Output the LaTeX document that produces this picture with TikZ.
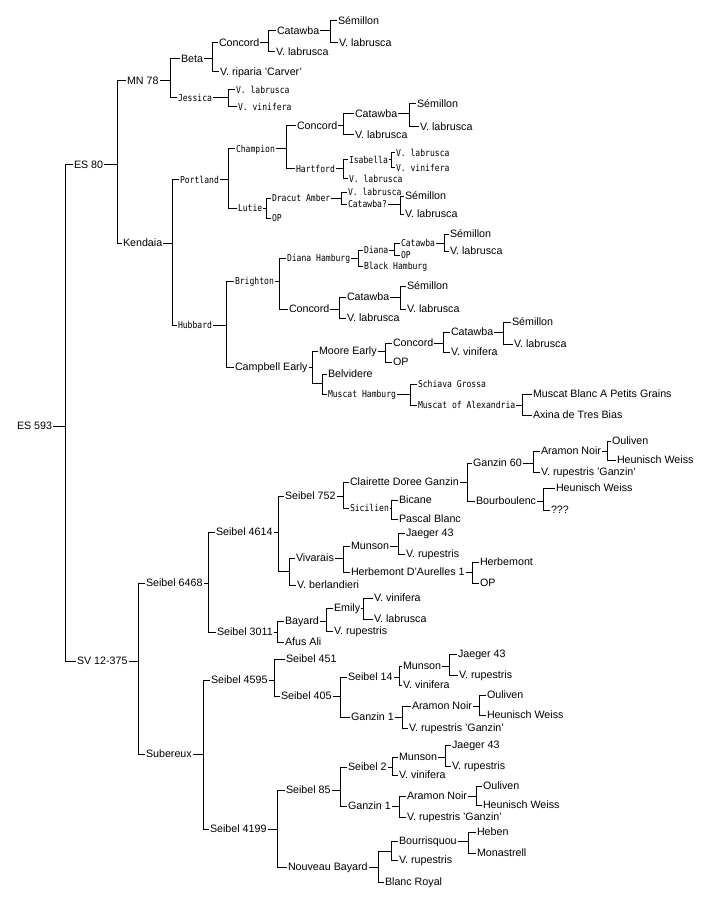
\documentclass[tikz,border=0pt]{standalone}
\usepackage{fontspec}
\setmainfont{Liberation Sans}
\newfontfamily\smallfont[FakeStretch=0.85]{DejaVu Sans Mono}

\begin{document}
\begin{tikzpicture}[x=1pt,y=-1pt,line width=1pt,
		lab/.style={anchor=west,inner sep=1pt,outer sep=0pt,font=\fontsize{10.7}{12}\selectfont,text height=7pt,text depth=0pt},
		sm/.style={lab,font=\smallfont\fontsize{9.5}{11}\selectfont,text height=6.8pt},
		junc/.style={inner sep=0pt,outer sep=0pt,minimum size=0pt}]
		\fill[white] (0,0) rectangle (714,904);
		\useasboundingbox (0,0) rectangle (714,904);

		\foreach \n/\x/\y/\txt in {es593/16/426/ES 593, es80/73/165/ES 80, sv12/76/661/SV 12-375,
				mn78/126/81/MN 78, kend/122/243/Kendaia, beta/180/59/Beta,
				conA/218/43/Concord, vrip/219/72/V. riparia 'Carver', catA/276/31/Catawba, labA/275/52/V. labrusca,
				semA/337/21/Sémillon, labA2/338/43/V. labrusca,
				conB/296/126/Concord, catB/354/114/Catawba, labB/354/135/V. labrusca, semB/416/104/Sémillon, labB2/419/127/V. labrusca,
				semC/404/196/Sémillon, labC/404/214/V. labrusca, semD/449/234/Sémillon, labD/449/251/V. labrusca,
				conD/288/309/Concord, catE/346/297/Catawba, labE/346/318/V. labrusca, semE/406/286/Sémillon, labE2/406/309/V. labrusca,
				campb/234/367/Campbell Early, moore/318/351/Moore Early, conF/392/343/Concord, mop/392/362/OP,
				catF/450/332/Catawba, vinF/450/352/V. vinifera, semF/511/322/Sémillon, labF/513/344/V. labrusca,
				belv/327/374/Belvidere, mblanc/532/394/Muscat Blanc A Petits Grains, axina/532/415/Axina de Tres Bias,
				s6468/145/583/Seibel 6468, suber/145/754/Subereux, s4614/215/532/Seibel 4614, s3011/216/632/Seibel 3011,
				s752/284/496/Seibel 752, clair/349/482/Clairette Doree Ganzin, g60/472/463/Ganzin 60, bourb/475/501/Bourboulenc,
				aramA/540/451/Aramon Noir, vrgA/540/472/V. rupestris 'Ganzin', oulA/611/441/Ouliven, heuA/616/460/Heunisch Weiss,
				heuB/555/488/Heunisch Weiss, qqq/550/510/???, bican/398/500/Bicane, pascal/398/519/Pascal Blanc,
				vivar/295/558/Vivarais, vberl/296/585/V. berlandieri, munA/350/546/Munson, herbA/350/572/Herbemont D'Aurelles 1,
				jaeA/405/533/Jaeger 43, vrA/405/554/V. rupestris, herb/479/562/Herbemont, hop/479/583/OP,
				bayard/284/621/Bayard, afus/284/642/Afus Ali, emily/333/608/Emily, bvr/333/631/V. rupestris,
				evin/373/598/V. vinifera, elab/373/619/V. labrusca,
				s4595/210/680/Seibel 4595, s4199/209/829/Seibel 4199, s451/285/659/Seibel 451, s405/280/696/Seibel 405,
				s14/347/677/Seibel 14, gz1A/350/717/Ganzin 1, munB/402/666/Munson, vinB/402/685/V. vinifera,
				jaeB/457/654/Jaeger 43, vrB/458/675/V. rupestris, aramB/411/706/Aramon Noir, vrgB/408/728/V. rupestris 'Ganzin',
				oulB/486/695/Ouliven, heuC/486/715/Heunisch Weiss,
				s85/285/790/Seibel 85, nbay/287/867/Nouveau Bayard, s2/347/767/Seibel 2, gz1B/347/806/Ganzin 1,
				munC/398/757/Munson, vinC/398/775/V. vinifera, jaeC/451/745/Jaeger 43, vrC/451/766/V. rupestris,
				aramC/406/796/Aramon Noir, vrgC/406/817/V. rupestris 'Ganzin', oulC/482/786/Ouliven, heuD/482/805/Heunisch Weiss,
				blanc/384/882/Blanc Royal, bourr/398/841/Bourrisquou, nvr/398/860/V. rupestris,
				heben/476/832/Heben, monas/476/853/Monastrell} {
				\node[lab] (\n) at (\x,\y) {\txt};
			}
		\foreach \n/\x/\y/\txt in {jess/177/98/Jessica, jlab/235/90/V. labrusca, jvin/237/107/V. vinifera,
				port/179/180/Portland, hubb/177/325/Hubbard, champ/235/149/Champion, lutie/237/208/Lutie,
				hart/295/169/Hartford, isab/348/160/Isabella, hlab/348/179/V. labrusca,
				ilab/395/153/V. labrusca, ivin/395/168/V. vinifera,
				dracut/271/198/Dracut Amber, lop/271/218/OP, dlab/347/192/V. labrusca, dcat/347/204/Catawba?,
				bright/234/281/Brighton, dham/286/258/Diana Hamburg, diana/363/250/Diana, bham/363/266/Black Hamburg,
				catD/400/243/Catawba, dop/400/255/OP,
				mham/327/394/Muscat Hamburg, schiava/417/384/Schiava Grossa, malex/417/405/Muscat of Alexandria,
				sicil/349/508/Sicilien} {
				\node[sm] (\n) at (\x,\y) {\txt};
			}
		% crosses without a name of their own
		\node[junc] (jc) at (322,383) {};
		\node[junc] (jv) at (289,571) {};
		\node[junc] (jb) at (391,851) {};

		\foreach \p/\a/\b/\x in {es593/es80/sv12/65, es80/mn78/kend/117, sv12/s6468/suber/138,
				mn78/beta/jess/170, kend/port/hubb/172, beta/conA/vrip/212, conA/catA/labA/268, catA/semA/labA2/330,
				jess/jlab/jvin/228, port/champ/lutie/228, champ/conB/hart/286, conB/catB/labB/343, catB/semB/labB2/409,
				hart/isab/hlab/343, isab/ilab/ivin/391, lutie/dracut/lop/266, dracut/dlab/dcat/341, dcat/semC/labC/400,
				hubb/bright/campb/226, bright/dham/conD/279, dham/diana/bham/358, diana/catD/dop/394, catD/semD/labD/444,
				conD/catE/labE/339, catE/semE/labE2/400, campb/moore/jc/312, moore/conF/mop/385, conF/catF/vinF/443,
				catF/semF/labF/503, jc/belv/mham/322, mham/schiava/malex/410, malex/mblanc/axina/522,
				s6468/s4614/s3011/208, s4614/s752/jv/278, s752/clair/sicil/343, clair/g60/bourb/467, g60/aramA/vrgA/533,
				aramA/oulA/heuA/607, bourb/heuB/qqq/543, sicil/bican/pascal/391, jv/vivar/vberl/289, vivar/munA/herbA/343,
				munA/jaeA/vrA/398, herbA/herb/hop/472, s3011/bayard/afus/277, bayard/emily/bvr/326, emily/evin/elab/363,
				suber/s4595/s4199/203, s4595/s451/s405/274, s405/s14/gz1A/340, s14/munB/vinB/399, munB/jaeB/vrB/449,
				gz1A/aramB/vrgB/402, aramB/oulB/heuC/479, s4199/s85/nbay/277, s85/s2/gz1B/340, s2/munC/vinC/392,
				munC/jaeC/vrC/445, gz1B/aramC/vrgC/399, aramC/oulC/heuD/476, nbay/jb/blanc/378, jb/bourr/nvr/391,
				bourr/heben/monas/468} {
				\draw (\p.east) -- (\p.east -| \x,0);
				\draw (\a.west) -- (\a.west -| \x,0) -- (\b.west -| \x,0) -- (\b.west);
			}
	\end{tikzpicture}
\end{document}
